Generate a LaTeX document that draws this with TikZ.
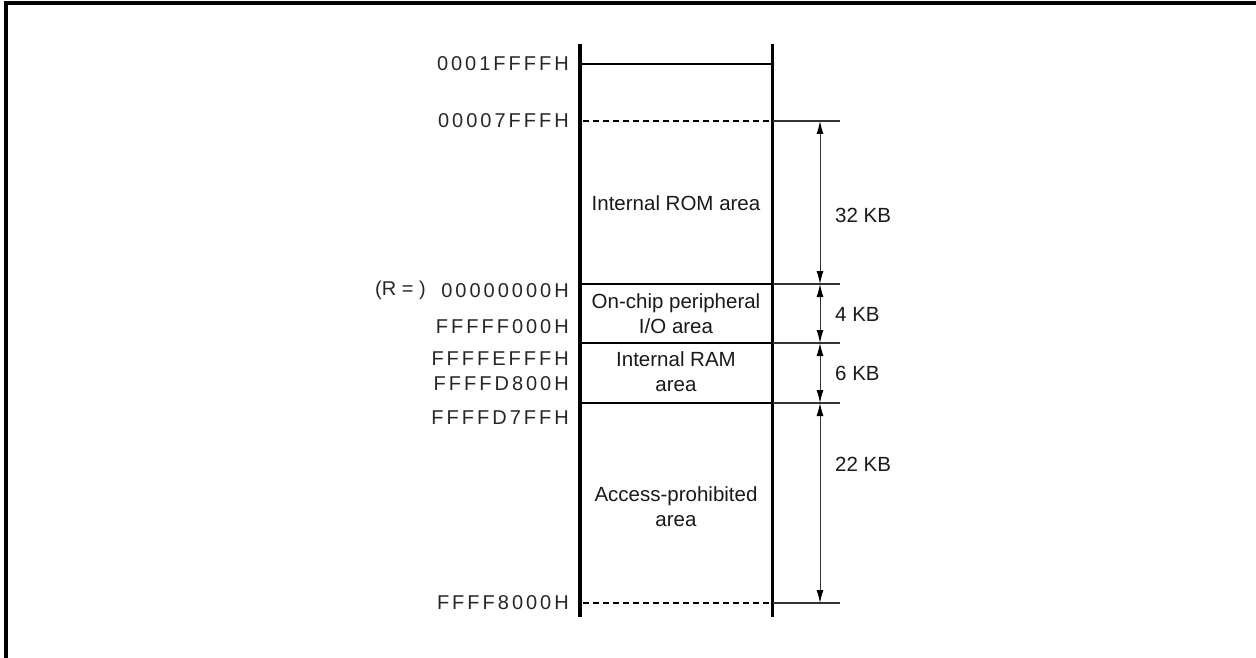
\documentclass[tikz,border=0pt]{standalone}
\usepackage{fontspec}
\setmainfont{Liberation Sans}
\newfontfamily\addrfont[LetterSpace=15]{Liberation Sans}
\usetikzlibrary{arrows.meta}
\begin{document}
\begin{tikzpicture}[x=1pt,y=-1pt,
  frame/.style={line width=4pt},
  wall/.style={line width=3.5pt},
  bound/.style={line width=1.3pt},
  dashb/.style={line width=1.3pt, dash pattern=on 5.5pt off 4.5pt},
  ext/.style={line width=1.3pt, black!80},
  dim/.style={line width=1pt, black!80, {Latex[length=13pt,width=7pt,black]}-{Latex[length=13pt,width=7pt,black]}},
  addr/.style={anchor=east, font=\addrfont\fontsize{20}{23}\selectfont, inner sep=0pt, text=black!85},
  lbl/.style={align=center, font=\fontsize{20.5}{25}\selectfont, inner sep=0pt, text=black!90},
  kb/.style={anchor=west, font=\fontsize{20.5}{25}\selectfont, inner sep=0pt, text=black!90},
  ]
\useasboundingbox (0,0) rectangle (1256,658);
% frame (cropped)
\draw[frame] (5.5,662) -- (5.5,3.5) -- (1262,3.5);
% walls
\coordinate (wlt) at (580,44);
\coordinate (wlb) at (580,617);
\coordinate (wrt) at (772.5,44);
\coordinate (wrb) at (772.5,617);
\draw[wall] (wlt) -- (wlb);
\draw[wall] (wrt) -- (wrb);
% level coordinates
\coordinate (aL) at (580,64);   \coordinate (aR) at (772.5,64);
\coordinate (bL) at (580,121);  \coordinate (bR) at (772.5,121);  \coordinate (bX) at (840,121);
\coordinate (cL) at (580,284);  \coordinate (cR) at (772.5,284);  \coordinate (cX) at (840,284);
\coordinate (dL) at (580,343);  \coordinate (dR) at (772.5,343);  \coordinate (dX) at (840,343);
\coordinate (eL) at (580,403);  \coordinate (eR) at (772.5,403);  \coordinate (eX) at (840,403);
\coordinate (fL) at (580,603);  \coordinate (fR) at (772.5,603);  \coordinate (fX) at (840,603);
% boundaries
\draw[bound] (aL) -- (aR);
\draw[dashb] ([xshift=3pt]bL) -- ([xshift=-2pt]bR);
\draw[ext] (bR) -- (bX);
\draw[bound] (cL) -- (cR);
\draw[ext] (cR) -- (cX);
\draw[bound] (dL) -- (dR);
\draw[ext] (dR) -- (dX);
\draw[bound] (eL) -- (eR);
\draw[ext] (eR) -- (eX);
\draw[dashb] ([xshift=3pt]fL) -- ([xshift=-2pt]fR);
\draw[ext] (fR) -- (fX);
% dimension arrows
\coordinate (d1) at (820,121);
\coordinate (d2) at (820,284);
\coordinate (d3) at (820,343);
\coordinate (d4) at (820,403);
\coordinate (d5) at (820,603);
\draw[dim] (d1) -- (d2);
\draw[dim] (d2) -- (d3);
\draw[dim] (d3) -- (d4);
\draw[dim] (d4) -- (d5);
% addresses
\node[addr] (ad1) at (569,64) {0001FFFFH};
\node[addr] (ad2) at (569,121) {00007FFFH};
\node[addr] (ad3) at (569,291) {00000000H};
\node[anchor=east, font=\fontsize{20}{24}\selectfont, inner sep=0pt, text=black!85] (rlab) at (426,290) {(R = )};
\node[addr] (ad4) at (569,327) {FFFFF000H};
\node[addr] (ad5) at (569,359) {FFFFEFFFH};
\node[addr] (ad6) at (569,384) {FFFFD800H};
\node[addr] (ad7) at (569,418) {FFFFD7FFH};
\node[addr] (ad8) at (569,603) {FFFF8000H};
% area labels
\node[lbl] (rom) at (676,203) {Internal ROM area};
\node[lbl] (io) at (676,314) {On-chip peripheral\\I/O area};
\node[lbl] (ram) at (676,372) {Internal RAM\\area};
\node[lbl] (acc) at (676,507) {Access-prohibited\\area};
% sizes
\node[kb] (k32) at (835,215) {32 KB};
\node[kb] (k4) at (835,314) {4 KB};
\node[kb] (k6) at (835,373) {6 KB};
\node[kb] (k22) at (835,464) {22 KB};
\end{tikzpicture}
\end{document}
